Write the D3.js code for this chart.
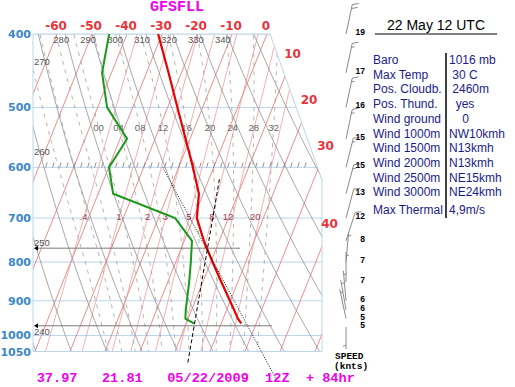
<!DOCTYPE html>
<html>
<head>
<meta charset="utf-8">
<script src="https://cdn.jsdelivr.net/npm/d3@7"></script>
<style>
body { margin: 0; background: #fff; }
svg { display: block; }
</style>
</head>
<body>
<svg id="chart" width="515" height="387"></svg>
<script>
// sounding, hPa / deg C
var levels = [400, 450, 500, 550, 600, 650, 700, 750, 800, 850, 900, 925, 950, 964];
var temp   = [-31.1, -23.7, -17.2, -11.3, -5.9, -1.2, 1.0, 5.6, 10.5, 15.3, 19.9, 22.1, 24.2, 25.7];
var dewpt  = [-45.1, -42.7, -37.3, -28.0, -29.9, -25.7, -5.2, 2.2, 4.3, 6.1, 7.6, 8.3, 9.2, 12.2];

// dry adiabat from max temp and mixing ratio from ground dew point
var dryLineP = [600, 1148], dryLineT = [-14.5, 42.5];
var mixLineP = [622, 1094], mixLineT = [3.0, 15.1];

// cloud base and ground
var markP = [767, 971], markEndT = [16.8, 34.8];

// winds (knots)
var windLevels = [400, 450, 500, 550, 600, 650, 700, 750, 800, 850, 900, 925, 950, 975];
var windSpeed  = [19, 17, 16, 15, 15, 13, 12, 8, 7, 7, 6, 6, 5, 5];
var windDir    = [12, 12, 12, 12, 14, 15, 15, 18, 5, 0, 355, 350, 348, 180];

// axes
var isobars = [400, 500, 600, 700, 800, 900, 1000, 1050];
var topTemps = [-60, -50, -40, -30, -20, -10, 0];
var sideTemps = [10, 20, 30, 40];
var isotherms = d3.range(-80, 60, 10);
var thetas = d3.range(230, 380, 10);
var topThetas = [280, 290, 300, 310, 320, 330, 340];
var leftThetas = [270, 260, 250, 240], leftThetaP = [440, 577, 762, 1000];
var thetaW = d3.range(-12, 36, 4);
var thetaWLabels = ["00", "04", "08", "12", "16", "20", "24", "28", "32"];
var mixRatios = [0.4, 1, 2, 3, 5, 8, 12, 20];
var mixLabels = [".4", "1", "2", "3", "5", "8", "12", "20"];

var infoLabels = ["Baro", "Max Temp", "Pos. Cloudb.", "Pos. Thund.", "Wind ground", "Wind 1000m",
	"Wind 1500m", "Wind 2000m", "Wind 2500m", "Wind 3000m", "Max Thermal"];
var infoValues = ["1016 mb", "\u00a030 C", "\u00a02460m", "\u00a0\u00a0yes", "\u00a0\u00a0\u00a0\u00a00", "NW10kmh",
	"N13kmh", "N13kmh", "NE15kmh", "NE24kmh", "4,9m/s"];

var svg = d3.select("#chart");

var y = d3.scaleLog().domain([400, 1050]).range([34, 351.5]);
var x = d3.scaleLinear().domain([-60, 0]).range([57, 267]);
var skew = 0.4;
function px(t, p) { return x(t) - skew * (y(p) - y(400)); }

var left = 33, cornerX = 270, right = 322, kneeY = 180;
var frame = [[left, y(400)], [cornerX, y(400)], [right, kneeY], [right, y(1050)], [left, y(1050)]];
function edgeX(yy) {
	return yy < kneeY ? cornerX + (yy - y(400)) * (right - cornerX) / (kneeY - y(400)) : right;
}

svg.append("clipPath").attr("id", "plot")
	.append("polygon").attr("points", frame.map(function(d) { return d.join(","); }).join(" "));

var line = d3.line().x(function(d) { return px(d.t, d.p); }).y(function(d) { return y(d.p); });
var pGrid = d3.range(370, 1111, 5);

var grid = svg.append("g").attr("clip-path", "url(#plot)").attr("fill", "none");

// isobars
grid.selectAll(".isobar").data(isobars).enter().append("line")
	.attr("x1", left).attr("x2", right)
	.attr("y1", function(d) { return y(d); }).attr("y2", function(d) { return y(d); })
	.attr("stroke", "#bcd5ea").attr("stroke-width", 1);

// isotherms
grid.selectAll(".iso").data(isotherms).enter().append("path")
	.attr("d", function(t) { return line([{p: 370, t: t}, {p: 1110, t: t}]); })
	.attr("stroke", "#e47070").attr("stroke-width", 0.8);

// mixing ratio
function dewFromW(w, p) {
	var e = w * p / (622 + w), l = Math.log(e / 6.112);
	return 243.5 * l / (17.67 - l);
}
grid.selectAll(".mix").data(mixRatios).enter().append("path")
	.attr("d", function(w) { return line(pGrid.map(function(p) { return {p: p, t: dewFromW(w, p)}; })); })
	.attr("stroke", "#eb9a9a").attr("stroke-width", 0.8);

// dry adiabats
function dryT(th, p) { return th * Math.pow(p / 1000, 0.2857) - 273.15; }
grid.selectAll(".dry").data(thetas).enter().append("path")
	.attr("d", function(th) { return line(pGrid.map(function(p) { return {p: p, t: dryT(th, p)}; })); })
	.attr("stroke", "#8f8f8f").attr("stroke-width", 0.8);

// moist adiabats
function dTdp(p, T) {
	var es = 6.112 * Math.exp(17.67 * (T - 273.15) / (T - 29.65)),
		rs = 0.622 * es / (p - es);
	return (287.04 * T + 2.501e6 * rs) / (1005.7 + 2.501e6 * 2.501e6 * rs * 0.622 / (287.04 * T * T)) / p;
}
function step(p, T, dp) {
	var k1 = dTdp(p, T), k2 = dTdp(p + dp / 2, T + dp / 2 * k1),
		k3 = dTdp(p + dp / 2, T + dp / 2 * k2), k4 = dTdp(p + dp, T + dp * k3);
	return T + dp / 6 * (k1 + 2 * k2 + 2 * k3 + k4);
}
function moist(tw) {
	var up = [], down = [], p, T;
	for (p = 1000, T = tw + 273.15; p >= 370; p -= 5) { up.push({p: p, t: T - 273.15}); T = step(p, T, -5); }
	for (p = 1005, T = step(1000, tw + 273.15, 5); p <= 1110; p += 5) { down.push({p: p, t: T - 273.15}); T = step(p, T, 5); }
	return up.reverse().concat(down);
}
var moistLines = thetaW.map(function(tw) { return {tw: tw, pts: moist(tw)}; });
grid.selectAll(".moist").data(moistLines).enter().append("path")
	.attr("d", function(d) { return line(d.pts); })
	.attr("stroke", "#a0a0a0").attr("stroke-width", 0.8).attr("stroke-dasharray", "4,5");

// frame
svg.append("polygon").attr("points", frame.map(function(d) { return d.join(","); }).join(" "))
	.attr("fill", "none").attr("stroke", "#bcd5ea").attr("stroke-width", 1);

// ticks on 600
svg.append("g").selectAll("line").data(d3.range(-48, 28, 2)).enter().append("line")
	.attr("x1", function(t) { return px(t, 600); }).attr("y1", y(600))
	.attr("x2", function(t) { return px(t, 600) + 1.5; }).attr("y2", y(600) - 5)
	.attr("stroke", "#777").attr("stroke-width", 0.8);

// labels
var sans = "'Liberation Sans', Arial, sans-serif";
svg.append("g").selectAll("text").data(isobars).enter().append("text")
	.attr("x", 31).attr("y", function(d) { return y(d) + 4; })
	.attr("text-anchor", "end").attr("font-family", "'DejaVu Sans', sans-serif")
	.attr("font-weight", "bold").attr("font-size", 11).attr("fill", "#3d88c8")
	.text(function(d) { return d; });

svg.append("g").selectAll("text").data(topTemps).enter().append("text")
	.attr("x", function(t) { return px(t, 400) - 1; }).attr("y", 30)
	.attr("text-anchor", "middle").attr("font-family", "'DejaVu Sans', sans-serif")
	.attr("font-weight", "bold").attr("font-size", 12).attr("fill", "#e8333b")
	.text(function(d) { return d; });

function isoEdge(t) {
	for (var yy = y(400); yy < y(1050); yy += 0.25) {
		if (px(t, y.invert(yy)) <= edgeX(yy)) return yy;
	}
	return y(1050);
}
svg.append("g").selectAll("text").data(sideTemps).enter().append("text")
	.attr("x", function(t) { var yy = isoEdge(t) - 19; return px(t, y.invert(yy)); })
	.attr("y", function(t) { return isoEdge(t) - 19; })
	.attr("text-anchor", "middle").attr("font-family", "'DejaVu Sans', sans-serif")
	.attr("font-weight", "bold").attr("font-size", 12).attr("fill", "#e8333b")
	.text(function(d) { return d; });

svg.append("g").selectAll("text").data(topThetas).enter().append("text")
	.attr("x", function(th) { return px(dryT(th, 400), 400) - 4; }).attr("y", 43)
	.attr("text-anchor", "middle").attr("font-family", sans).attr("font-size", 9.5).attr("fill", "#555")
	.text(function(d) { return d; });

svg.append("g").selectAll("text").data(leftThetas).enter().append("text")
	.attr("x", 34).attr("y", function(d, i) { return y(leftThetaP[i]); })
	.attr("font-family", sans).attr("font-size", 9.5).attr("fill", "#555")
	.text(function(d) { return d; });

svg.append("g").selectAll("text").data(moistLines.filter(function(d) { return d.tw >= 0; })).enter().append("text")
	.attr("x", function(d) {
		var q = d.pts.find(function(e) { return e.p === 530; });
		return px(q.t, 530);
	})
	.attr("y", 131).attr("text-anchor", "middle")
	.attr("font-family", sans).attr("font-size", 9.5).attr("fill", "#666")
	.text(function(d, i) { return thetaWLabels[i]; });

svg.append("g").selectAll("text").data(mixRatios).enter().append("text")
	.attr("x", function(w) { return px(dewFromW(w, 700), 700) + (w >= 10 ? 1 : 0); })
	.attr("y", 220).attr("text-anchor", function(w) { return w >= 10 ? "end" : "middle"; })
	.attr("font-family", sans).attr("font-size", 9.5).attr("fill", "#a63a4a")
	.text(function(d, i) { return mixLabels[i]; });

// level markers
var marks = svg.append("g");
markP.forEach(function(p, i) {
	marks.append("line").attr("x1", 35).attr("x2", px(markEndT[i], p))
		.attr("y1", y(p)).attr("y2", y(p)).attr("stroke", "#7a7a7a").attr("stroke-width", 1);
	marks.append("path").attr("d", "M34," + y(p) + "l4,-2.5v5z").attr("fill", "#000");
});

// profiles
var sounding = levels.map(function(p, i) { return {p: p, t: temp[i], td: dewpt[i]}; });
svg.append("path").datum(sounding)
	.attr("d", line)
	.attr("fill", "none").attr("stroke", "#e60000").attr("stroke-width", 2.2);
svg.append("path").datum(sounding)
	.attr("d", d3.line().x(function(d) { return px(d.td, d.p); }).y(function(d) { return y(d.p); }))
	.attr("fill", "none").attr("stroke", "#1a9a1a").attr("stroke-width", 2);

svg.append("path").datum(dryLineP.map(function(p, i) { return {p: p, t: dryLineT[i]}; }))
	.attr("d", line).attr("fill", "none").attr("stroke", "#000").attr("stroke-width", 0.9)
	.attr("stroke-dasharray", "1,1.5");
svg.append("path").datum(mixLineP.map(function(p, i) { return {p: p, t: mixLineT[i]}; }))
	.attr("d", line).attr("fill", "none").attr("stroke", "#000").attr("stroke-width", 1)
	.attr("stroke-dasharray", "4,2.5");

// winds
var wx = 346, barbs = svg.append("g").attr("stroke", "#8a8a8a").attr("stroke-width", 1).attr("fill", "none");
windLevels.forEach(function(p, i) {
	var a = windDir[i] * Math.PI / 180, L = 30,
		ux = Math.sin(a), uy = -Math.cos(a), rx = -uy, ry = ux,
		by = y(p), tx = wx + ux * L, ty = by + uy * L,
		s = windSpeed[i] + 2.5, full = Math.floor(s / 10), half = (s % 10) >= 5, k = 0;
	if (windDir[i] === 180) { L = 22; tx = wx + ux * L; ty = by + uy * L; }
	barbs.append("line").attr("x1", wx).attr("y1", by).attr("x2", tx).attr("y2", ty);
	for (var j = 0; j < full; j++, k++) {
		var sx0 = tx - ux * k * 4, sy0 = ty - uy * k * 4;
		barbs.append("line").attr("x1", sx0).attr("y1", sy0)
			.attr("x2", sx0 + rx * 6 + ux * 2.5).attr("y2", sy0 + ry * 6 + uy * 2.5);
	}
	if (half) {
		if (k === 0) k = 1;
		var hx = tx - ux * k * 4, hy = ty - uy * k * 4;
		barbs.append("line").attr("x1", hx).attr("y1", hy)
			.attr("x2", hx + rx * 3 + ux * 1.2).attr("y2", hy + ry * 3 + uy * 1.2);
	}
});
svg.append("g").selectAll("text").data(windLevels).enter().append("text")
	.attr("x", 365).attr("y", function(p) { return y(p) + 1; })
	.attr("text-anchor", "end").attr("font-family", sans).attr("font-weight", "bold")
	.attr("font-size", 8.5).attr("fill", "#000")
	.text(function(d, i) { return windSpeed[i]; });

var mono = "'Liberation Mono', 'Courier New', monospace";
svg.append("text").attr("x", 335).attr("y", 359).attr("font-family", mono).attr("font-weight", "bold")
	.attr("font-size", 9.5).text("SPEED");
svg.append("text").attr("x", 334).attr("y", 369).attr("font-family", mono).attr("font-weight", "bold")
	.attr("font-size", 9.5).text("(knts)");

// titles
svg.append("text").attr("x", 150).attr("y", 11).attr("font-family", mono).attr("font-weight", "bold")
	.attr("font-size", 15).attr("fill", "#ee00ee").text("GFSFLL");
svg.append("text").attr("x", 36.7).attr("y", 382).attr("font-family", mono).attr("font-weight", "bold")
	.attr("font-size", 13.6).attr("fill", "#ee00ee").style("white-space", "pre")
	.text("37.97   21.81   05/22/2009  12Z  + 84hr");

// info table
svg.append("text").attr("x", 387).attr("y", 30).attr("font-family", sans).attr("font-size", 14)
	.attr("fill", "#000").text("22 May 12 UTC");
svg.append("line").attr("x1", 375).attr("x2", 497).attr("y1", 34).attr("y2", 34)
	.attr("stroke", "#000").attr("stroke-width", 1);
svg.append("line").attr("x1", 446).attr("x2", 446).attr("y1", 53).attr("y2", 218)
	.attr("stroke", "#000").attr("stroke-width", 1.5);
function rowY(i) { return i < 10 ? 64 + i * 14.7 : 214; }
var info = svg.append("g").attr("font-family", sans).attr("font-size", 12).attr("fill", "#1c1c86");
info.selectAll(".lab").data(infoLabels).enter().append("text")
	.attr("x", 373).attr("y", function(d, i) { return rowY(i); }).text(function(d) { return d; });
info.selectAll(".val").data(infoValues).enter().append("text")
	.attr("x", 449).attr("y", function(d, i) { return rowY(i); }).text(function(d) { return d; });
</script>
</body>
</html>
